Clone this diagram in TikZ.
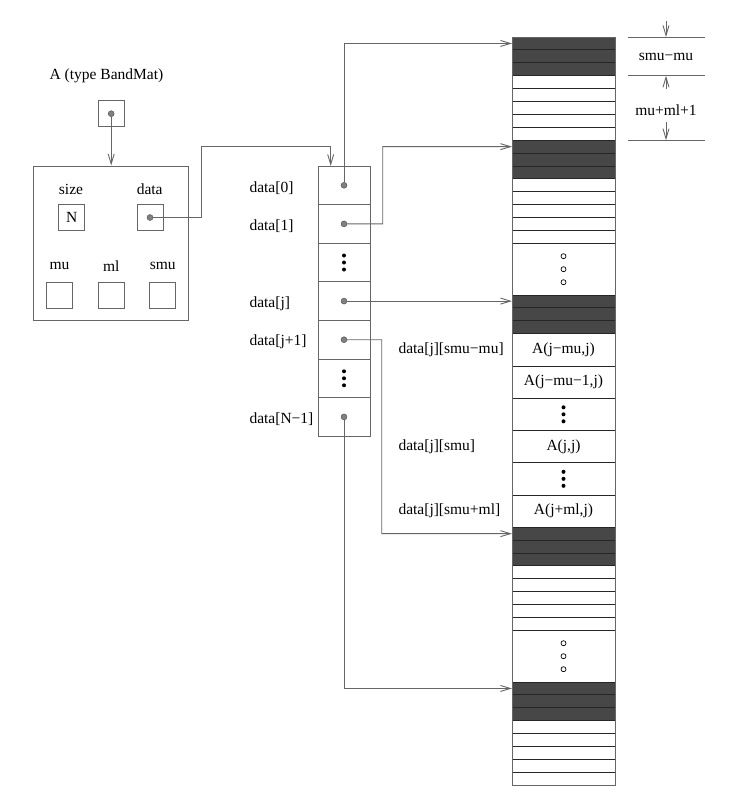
\documentclass[tikz,border=0pt]{standalone}
\usepackage{fontspec}
\setmainfont{Liberation Serif}
\usetikzlibrary{arrows.meta, calc}

\begin{document}
\begin{tikzpicture}[x=1pt, y=-1pt, font=\fontsize{15.5}{18}\selectfont,
    >={Straight Barb[length=10pt, width=6pt]},
    line/.style={draw=black!60, line width=0.9pt},
    ptr/.style={line, ->},
    box/.style={line, minimum size=26pt, inner sep=0pt},
    cell/.style={line, minimum width=52pt, minimum height=38.6pt, inner sep=0pt, outer sep=0pt},
    darkrow/.style={draw=black!85, fill=black!72, line width=0.9pt, minimum width=103pt,
      minimum height=12.9pt, inner sep=0pt, outer sep=0pt, anchor=north west},
    blankrow/.style={darkrow, fill=white},
    elem/.style={blankrow, minimum height=32.25pt},
    pdot/.style={circle, draw=black!70, fill=black!50, minimum size=6pt, inner sep=0pt},
    sdot/.style={circle, fill=black, minimum size=4pt, inner sep=0pt},
    odot/.style={circle, draw=black, line width=0.7pt, fill=white, minimum size=5pt, inner sep=0pt}]
  \useasboundingbox (0,0) rectangle (737,808);
  % BandMat structure
  \node (title) at (106.5,76) {A (type BandMat)};
  \node[box] (Abox) at (111.2,113.7) {};
  \node[pdot] (Adot) at (Abox) {};
  \node[line, minimum width=155pt, minimum height=154.7pt, inner sep=0pt] (bandmat) at (110.8,243.3) {};
  \node (lsize) at (71,189) {size};
  \node (ldata) at (149.7,189) {data};
  \node[box] (Nbox) at (71.7,217.5) {N};
  \node[box] (dbox) at (150,217.5) {};
  \node[pdot] (ddot) at (dbox) {};
  \foreach \n/\x in {mu/59.5, ml/111.2, smu/162.8}{
    \node (l\n) at (\x,265.7) {\n};
    \node[box] (\n box) at (\x,295) {};
  }
  \draw[ptr] (Adot) -- (Adot |- bandmat.north);
  % array of column pointers
  \foreach \i in {0,...,6}{
    \node[cell] (c\i) at (344, 185.3+38.6*\i) {};
  }
  \foreach \i in {0,1,3,4,6}{
    \node[pdot] (d\i) at (c\i) {};
  }
  \foreach \i in {2,5}{
    \foreach \k in {-1,0,1}
      \node[sdot] (v\i\k) at ($(c\i)+(0,7*\k)$) {};
  }
  \foreach \i/\t in {0/data[0], 1/data[1], 3/data[j], 4/data[j+1], 6/data[N−1]}{
    \node[anchor=west] (l\i) at (246,0 |- c\i) [yshift=-2.5pt] {\t};
  }
  \coordinate (k0) at (201.7,146.7);
  \coordinate (arrin) at (330.7,166);
  \draw[ptr] (ddot) -| (k0) -| (arrin);
  % banded storage, one column after another
  \foreach \i in {0,1,2,8,9,10,20,21,22,38,39,40,50,51,52}{
    \node[darkrow] (r\i) at (512, 37+\i*12.9) {};
  }
  \foreach \i in {3,4,5,6,7,11,12,13,14,15,41,42,43,44,45,53,54,55,56,57}{
    \node[blankrow] (r\i) at (512, 37+\i*12.9) {};
  }
  \foreach \i in {16,46}{
    \node[blankrow, minimum height=51.6pt] (r\i) at (512, 37+\i*12.9) {};
    \foreach \k in {-1,0,1}
      \node[odot] (o\i\k) at ($(r\i)+(0,13*\k)$) {};
  }
  \foreach \t [count=\k from 0] in {{A(j−mu,j)}, {A(j−mu−1,j)}, {}, {A(j,j)}, {}, {A(j+ml,j)}}{
    \node[elem] (e\k) at (512, 333.7+\k*32.25) {};
    \node (et\k) at (e\k) {\t};
  }
  \foreach \i in {2,4}{
    \foreach \k in {-1,0,1}
      \node[sdot] (w\i\k) at ($(e\i)+(0,7*\k)$) {};
  }
  \draw[line] (r0.north west) rectangle (r57.south east);
  \node[anchor=west] (s0) at (395,0 |- e0) {data[j][smu−mu]};
  \node[anchor=west] (s3) at (395,0 |- e3) {data[j][smu]};
  \node[anchor=west] (s5) at (395,0 |- e5) {data[j][smu+ml]};
  % pointers into the columns
  \coordinate (k1) at (382.7,146.65);
  \coordinate (k4) at (381.7,533.65);
  \draw[ptr] (d0) |- (r0.west);
  \draw[ptr] (d1) -| (k1) -- (r8.west);
  \draw[ptr] (d3) -- (d3 -| r20.west);
  \draw[ptr] (d4) -| (k4) -- (r38.west);
  \draw[ptr] (d6) |- (r50.west);
  % offsets
  \coordinate (t0) at (628,37);
  \coordinate (t1) at (628,75.7);
  \coordinate (t2) at (628,140.2);
  \foreach \i in {0,1,2}
    \draw[line] (t\i) -- ++(77,0);
  \node (smumu) at (666,57) {smu−mu};
  \node (mumlone) at (666,110) {mu+ml+1};
  \draw[ptr] (666,21) -- (t0 -| smumu);
  \draw[ptr] (666,89) -- (t1 -| smumu);
  \draw[ptr] (666,122) -- (t2 -| smumu);
\end{tikzpicture}
\end{document}
